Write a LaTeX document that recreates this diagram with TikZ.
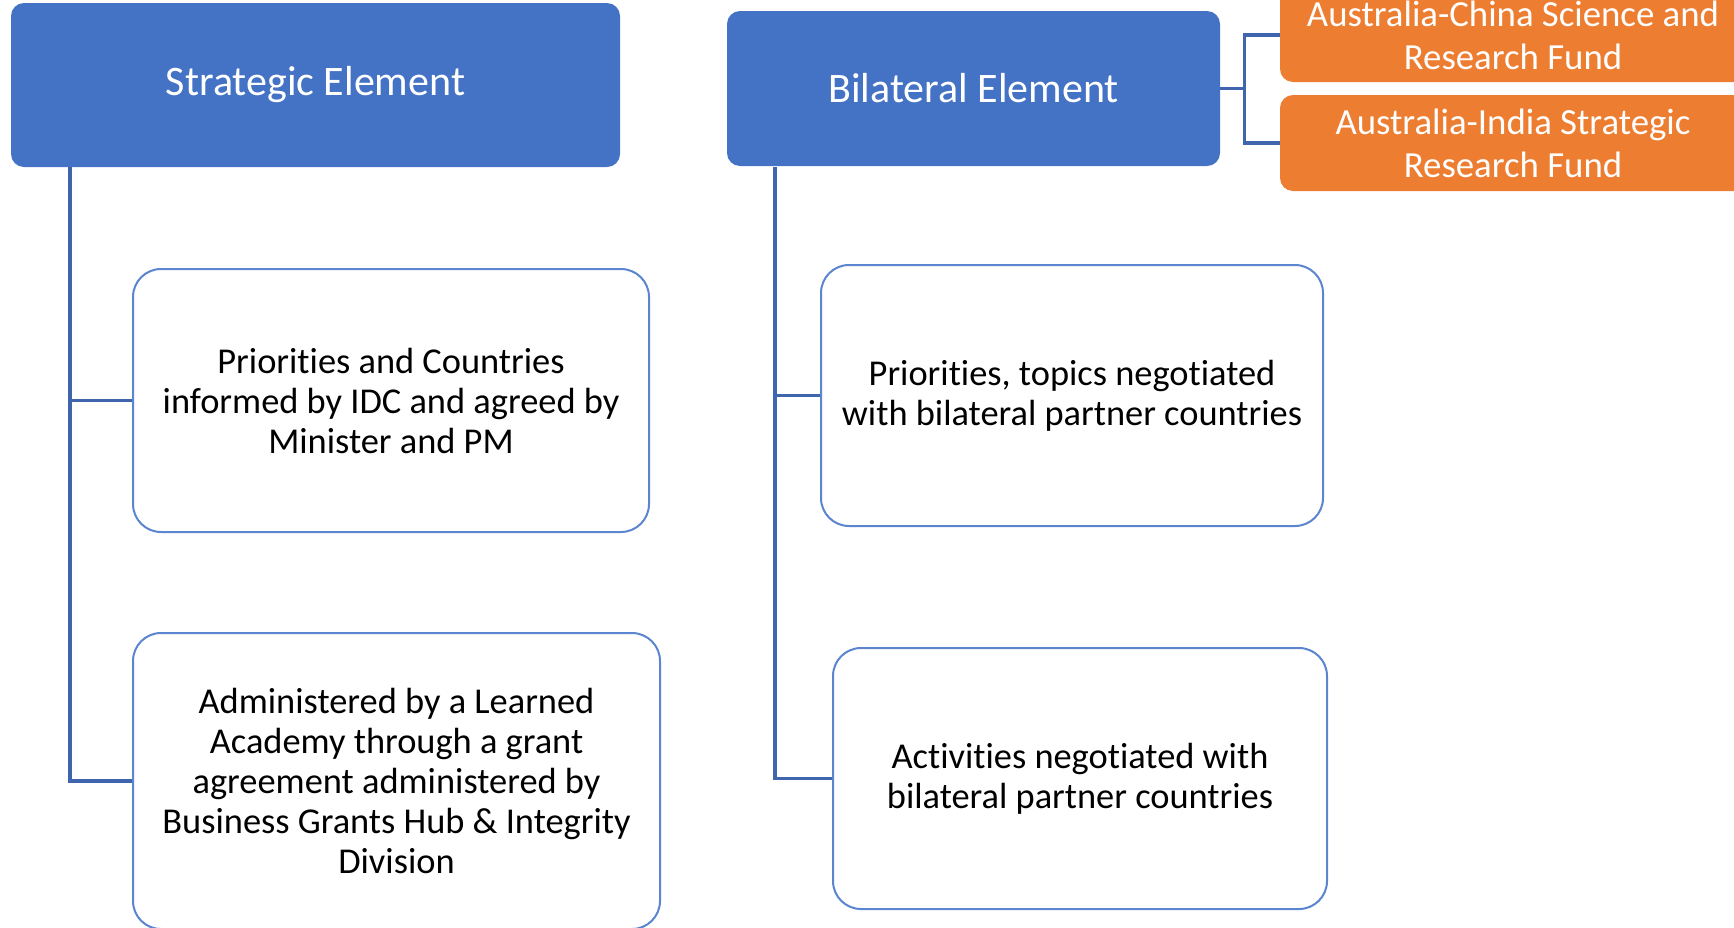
\documentclass[tikz,border=0pt]{standalone}
\usepackage{fontspec}
\setmainfont{Carlito}[Ligatures=NoCommon]
\usetikzlibrary{positioning}
\definecolor{headblue}{HTML}{4472C4}
\definecolor{lineblue}{HTML}{3F65AF}
\definecolor{boxblue}{HTML}{5B86CF}
\definecolor{fundorange}{HTML}{ED7D31}
\tikzset{
  head/.style={fill=headblue, rounded corners=6.5pt, text=white, inner sep=0pt, font=\fontsize{21}{25}\selectfont},
  fund/.style={fill=fundorange, rounded corners=6.5pt, text=white, inner sep=0pt, align=center, font=\fontsize{18.4}{21.5}\selectfont},
  item/.style={draw=boxblue, line width=1pt, fill=white, rounded corners=14pt, inner sep=0pt, align=center, font=\fontsize{18.2}{20}\selectfont},
  link/.style={draw=lineblue, line width=1.7pt}
}
\begin{document}
\begin{tikzpicture}[x=0.5pt,y=-0.5pt]
\useasboundingbox (0,0) rectangle (1734,927);
\clip (0,0) rectangle (1734,927);
\node[head, minimum width=304.5pt, minimum height=82pt] (strat) at (315.5,85) {Strategic Element};
\node[head, minimum width=246.5pt, minimum height=77.5pt] (bilat) at (973.5,88.5) {Bilateral Element};
\node[fund, minimum width=233pt, minimum height=47pt] (acsrf) at (1513,35) {Australia-China Science and\\Research Fund};
\node[fund, minimum width=233pt, minimum height=48pt] (aisrf) at (1513,143) {Australia-India Strategic\\Research Fund};
\node[item, minimum width=258pt, minimum height=131.5pt] (prio1) at (391,400.5) {Priorities and Countries\\informed by IDC and agreed by\\Minister and PM};
\node[item, minimum width=263.5pt, minimum height=148pt] (admin) at (396.5,781) {Administered by a Learned\\Academy through a grant\\agreement administered by\\Business Grants Hub \& Integrity\\Division};
\node[item, minimum width=251pt, minimum height=130.5pt] (prio2) at (1072,395.5) {Priorities, topics negotiated\\with bilateral partner countries};
\node[item, minimum width=247pt, minimum height=130.5pt] (activ) at (1080,778.5) {Activities negotiated with\\bilateral partner countries};
\coordinate (sl) at (70,167);
\coordinate (bl) at (775,167);
\draw[link] (sl) |- (prio1.west);
\draw[link] (sl) |- (admin.west);
\draw[link] (bl) |- (prio2.west);
\draw[link] (bl) |- (activ.west);
\draw[link] (bilat.east) -- ++(24,0) coordinate (bk);
\draw[link] (bk) |- (acsrf.west);
\draw[link] (bk) |- (aisrf.west);
\end{tikzpicture}
\end{document}
